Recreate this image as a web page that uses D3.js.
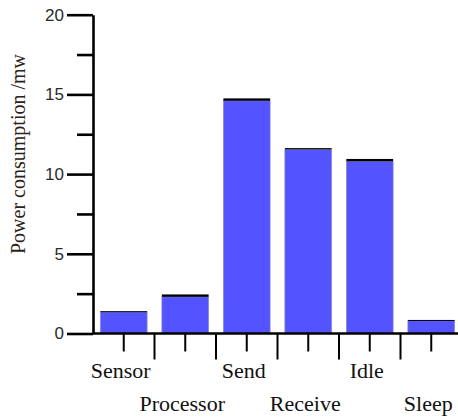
<!DOCTYPE html>
<html>
<head>
<meta charset="utf-8">
<script src="https://cdn.jsdelivr.net/npm/d3@7"></script>
<style>
  html, body { margin: 0; padding: 0; background: #fff; }
</style>
</head>
<body>
<div id="chart"></div>
<script>
const categories = ['Sensor', 'Processor', 'Send', 'Receive', 'Idle', 'Sleep'];
const power = [1.35, 2.3, 14.6, 11.55, 10.8, 0.8];
const errors = [0.05, 0.15, 0.15, 0.08, 0.15, 0.05];
const majorTicks = [0, 5, 10, 15, 20];
const minorTicks = [2.5, 7.5, 12.5, 17.5];

const width = 458;
const height = 417;

const svg = d3
  .select('#chart')
  .append('svg')
  .attr('width', width)
  .attr('height', height);

// scales
const y = d3.scaleLinear().domain([0, 20]).range([333.5, 14.7]);
const x = d3
  .scaleBand()
  .domain(categories)
  .range([93, 462])
  .paddingInner(0.24)
  .paddingOuter(0.12);

// bars
svg
  .selectAll('rect.bar')
  .data(categories)
  .enter()
  .append('rect')
  .attr('class', 'bar')
  .attr('x', d => x(d))
  .attr('y', (d, i) => y(power[i]))
  .attr('width', x.bandwidth())
  .attr('height', (d, i) => y(0) - y(power[i]))
  .attr('fill', '#5353ff')
  .attr('stroke', '#8a8ac8')
  .attr('stroke-width', 0.7);

// mean / error caps on top of each bar
svg
  .selectAll('rect.cap')
  .data(categories)
  .enter()
  .append('rect')
  .attr('class', 'cap')
  .attr('x', d => x(d))
  .attr('y', (d, i) => y(power[i] + errors[i]))
  .attr('width', x.bandwidth())
  .attr('height', (d, i) => Math.max(1, y(power[i]) - y(power[i] + errors[i])))
  .attr('fill', '#000');

// y axis, major ticks
const yG = svg
  .append('g')
  .attr('transform', 'translate(93,0)')
  .call(d3.axisLeft(y).tickValues(majorTicks).tickSize(26).tickSizeOuter(0).tickPadding(3));

yG.select('.domain').attr('stroke-width', 2.6);
yG.selectAll('.tick line').attr('stroke-width', 2.6);
yG.selectAll('.tick text')
  .attr('font-family', 'Liberation Sans, Arial, sans-serif')
  .attr('font-size', 17)
  .attr('fill', '#2a2a2a');

// y axis, minor ticks
const yMinor = svg
  .append('g')
  .attr('transform', 'translate(93,0)')
  .call(d3.axisLeft(y).tickValues(minorTicks).tickSize(16).tickFormat(''));
yMinor.select('.domain').remove();
yMinor.selectAll('.tick line').attr('stroke-width', 2.6);

// x axis baseline
svg
  .append('line')
  .attr('x1', 93)
  .attr('x2', width)
  .attr('y1', y(0))
  .attr('y2', y(0))
  .attr('stroke', '#000')
  .attr('stroke-width', 2.6);

// x ticks: short ones under bars, long ones between bars
const step = x.step();
svg
  .selectAll('line.xtick')
  .data(categories)
  .enter()
  .append('line')
  .attr('x1', d => x(d) + x.bandwidth() / 2)
  .attr('x2', d => x(d) + x.bandwidth() / 2)
  .attr('y1', y(0))
  .attr('y2', y(0) + 18)
  .attr('stroke', '#000')
  .attr('stroke-width', 2);

svg
  .selectAll('line.xsep')
  .data(categories.slice(0, -1))
  .enter()
  .append('line')
  .attr('x1', d => x(d) + x.bandwidth() / 2 + step / 2)
  .attr('x2', d => x(d) + x.bandwidth() / 2 + step / 2)
  .attr('y1', y(0))
  .attr('y2', y(0) + 26)
  .attr('stroke', '#000')
  .attr('stroke-width', 2);

// x labels, alternating rows
svg
  .selectAll('text.xlab')
  .data(categories)
  .enter()
  .append('text')
  .attr('x', d => x(d) + x.bandwidth() / 2 - 3)
  .attr('y', (d, i) => (i % 2 === 0 ? 378 : 411))
  .attr('text-anchor', 'middle')
  .attr('font-family', 'Liberation Serif, Times New Roman, serif')
  .attr('font-size', 22)
  .attr('fill', '#111')
  .text(d => d);

// y label
svg
  .append('text')
  .attr('transform', 'translate(25,154) rotate(-90)')
  .attr('text-anchor', 'middle')
  .attr('font-family', 'Liberation Serif, Times New Roman, serif')
  .attr('font-size', 20)
  .attr('fill', '#2b2118')
  .text('Power consumption /mw');
</script>
</body>
</html>
